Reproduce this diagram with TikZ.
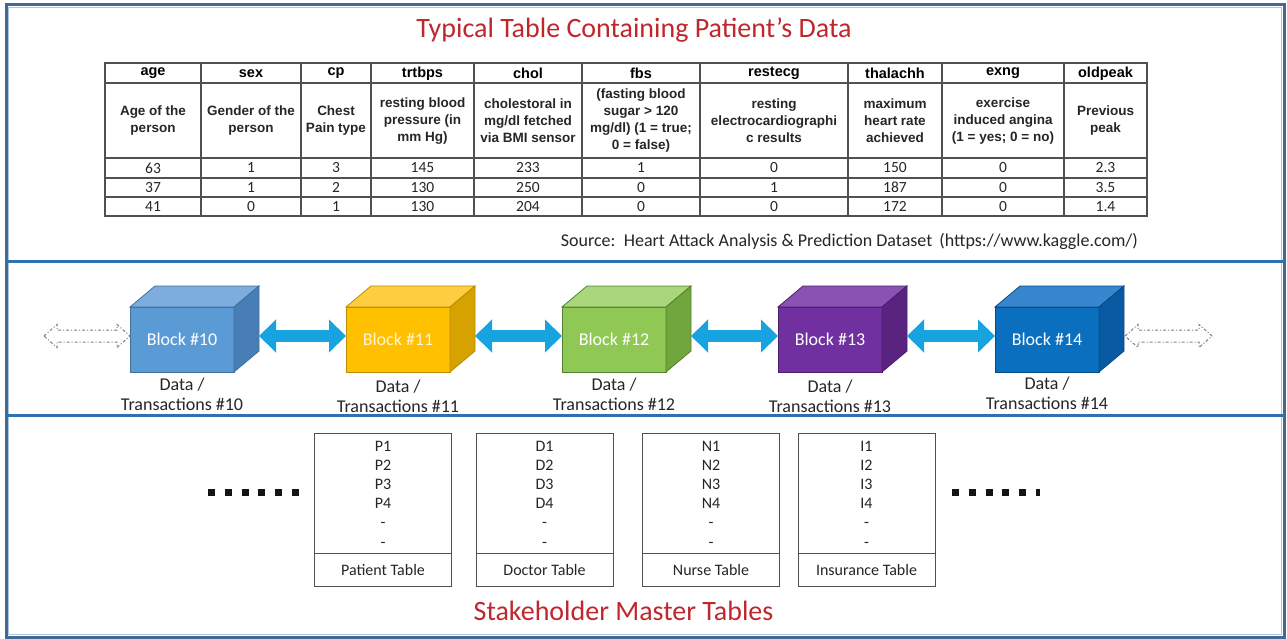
\documentclass[tikz,border=0pt]{standalone}
\usepackage{fontspec}
\setmainfont{Carlito}
\newfontfamily\arialfont{Liberation Sans}
\usetikzlibrary{arrows.meta,calc}

\definecolor{framecol}{RGB}{68,105,145}
\definecolor{framein}{RGB}{170,198,227}
\definecolor{divcol}{RGB}{46,113,176}
\definecolor{titlered}{RGB}{192,39,45}
\definecolor{gridcol}{RGB}{80,80,80}
\definecolor{txtdark}{RGB}{38,38,38}
\definecolor{arrcyan}{RGB}{22,163,224}
\definecolor{dashgray}{RGB}{128,128,128}
% cube faces: front / top / side / edge
\definecolor{aF}{RGB}{91,155,213}\definecolor{aT}{RGB}{124,173,222}\definecolor{aS}{RGB}{72,126,182}\definecolor{aE}{RGB}{65,113,156}
\definecolor{bF}{RGB}{255,192,0}\definecolor{bT}{RGB}{255,206,64}\definecolor{bS}{RGB}{214,162,0}\definecolor{bE}{RGB}{188,140,0}
\definecolor{cF}{RGB}{143,200,84}\definecolor{cT}{RGB}{170,215,124}\definecolor{cS}{RGB}{112,166,60}\definecolor{cE}{RGB}{84,130,50}
\definecolor{dF}{RGB}{112,48,160}\definecolor{dT}{RGB}{138,82,178}\definecolor{dS}{RGB}{88,36,128}\definecolor{dE}{RGB}{75,30,110}
\definecolor{eF}{RGB}{11,111,192}\definecolor{eT}{RGB}{56,135,206}\definecolor{eS}{RGB}{8,90,162}\definecolor{eE}{RGB}{6,75,135}
\definecolor{lblcream}{RGB}{255,244,214}

\begin{document}
\begin{tikzpicture}[x=1pt,y=-1pt,
  frame/.style={draw=framecol,line width=3pt},
  divider/.style={draw=divcol,line width=3pt},
  heading/.style={font=\fontsize{28}{32}\selectfont,text=titlered,inner sep=0},
  grid/.style={draw=gridcol,line width=1.1pt},
  gridouter/.style={draw=gridcol,line width=1.8pt},
  hdtxt/.style={font=\arialfont\bfseries\fontsize{14.5}{16}\selectfont,inner sep=0},
  dstxt/.style={font=\arialfont\bfseries\fontsize{13.5}{17}\selectfont,align=center,inner sep=0,text=txtdark},
  valtxt/.style={font=\fontsize{15.5}{17}\selectfont,inner sep=0,text=txtdark},
  srctxt/.style={font=\fontsize{18}{20}\selectfont,inner sep=0,text=txtdark},
  cubefront/.style={minimum width=104pt,minimum height=65pt,inner sep=0,outer sep=0,line width=0.8pt,font=\fontsize{18}{20}\selectfont},
  datalbl/.style={font=\fontsize{18}{20}\selectfont,align=center,inner sep=0,text=txtdark},
  bluearr/.style={draw=arrcyan,line width=12pt,{Triangle[width=32pt,length=17pt]}-{Triangle[width=32pt,length=17pt]}},
  dasharr/.style={draw=dashgray,line width=1pt,dash dot},
  tbox/.style={draw=gridcol,line width=1pt,minimum width=137pt,minimum height=153pt,inner sep=0,outer sep=0},
  listtxt/.style={font=\fontsize{16}{19.2}\selectfont,align=center,inner sep=0,text=txtdark},
  tname/.style={font=\fontsize{16}{18}\selectfont,inner sep=0,text=txtdark},
  dotsq/.style={fill=black!92}
]
\useasboundingbox (0,0) rectangle (1287,639);
\fill[white] (0,0) rectangle (1287,639);

% ---------- frame and section dividers ----------
\draw[framein,line width=1pt] (8.5,7.5) rectangle (1281.5,634.5);
\draw[frame] (6,5) rectangle (1284,637);
\draw[divider] (6,261) -- (1284,261);
\draw[divider] (6,415) -- (1284,415);

% ---------- patient data table ----------
\node[heading] (title) at (634,30) {Typical Table Containing Patient’s Data};

\foreach \x in {201,301,371,474,582,700,848,942,1064}
  \draw[grid] (\x,63) -- (\x,216);
\foreach \y in {83,158,178,197}
  \draw[grid] (105,\y) -- (1147,\y);
\draw[gridouter] (105,63) rectangle (1147,216);

\foreach \cx/\hd/\ds/\va/\vb/\vc [count=\i] in {
  153/age/{Age of the\\person}/63/37/41,
  251/sex/{Gender of the\\person}/1/1/0,
  336/cp/{Chest\\Pain type}/3/2/1,
  422.5/trtbps/{resting blood\\pressure (in\\mm Hg)}/145/130/130,
  528/chol/{cholestoral in\\mg/dl fetched\\via BMI sensor}/233/250/204,
  641/fbs/{(fasting blood\\sugar > 120\\mg/dl) (1 = true;\\0 = false)}/1/0/0,
  774/restecg/{resting\\electrocardiographi\\c results}/0/1/0,
  895/thalachh/{maximum\\heart rate\\achieved}/150/187/172,
  1003/exng/{exercise\\induced angina\\(1 = yes; 0 = no)}/0/0/0,
  1105.5/oldpeak/{Previous\\peak}/2.3/3.5/1.4}
{
  \node[hdtxt] (hd\i) at (\cx,73.5) {\hd};
  \node[dstxt] (ds\i) at (\cx,121) {\ds};
  \node[valtxt] (va\i) at (\cx,168) {\va};
  \node[valtxt] (vb\i) at (\cx,187.5) {\vb};
  \node[valtxt] (vc\i) at (\cx,206.5) {\vc};
}
\node[srctxt,anchor=east] (src) at (1138,241) {Source:\, Heart Attack Analysis \& Prediction Dataset\, (https://www.kaggle.com/)};

% ---------- chain of blocks ----------
\foreach \n/\bx/\cf/\ct/\cs/\ce/\tc/\ly in {
  10/130/aF/aT/aS/aE/white/394,
  11/346/bF/bT/bS/bE/lblcream/396.5,
  12/562/cF/cT/cS/cE/white/394,
  13/778/dF/dT/dS/dE/white/396.5,
  14/995/eF/eT/eS/eE/white/393.5}
{
  \node[cubefront,fill=\cf,draw=\ce,text=\tc] (blk\n) at (\bx+52,339.5) {Block \#\n};
  \filldraw[fill=\ct,draw=\ce,line width=0.8pt] (blk\n.north west) -- ++(25,-21) -- ++(104,0) -- (blk\n.north east) -- cycle;
  \filldraw[fill=\cs,draw=\ce,line width=0.8pt] (blk\n.north east) -- ++(25,-21) -- ++(0,65) -- (blk\n.south east) -- cycle;
  \coordinate (side\n) at ($(blk\n.east)+(25,-3.5)$);
  \node[datalbl] (dt\n) at (\bx+52,\ly) {Data /\\Transactions \#\n};
}
\foreach \a/\b in {10/11,11/12,12/13,13/14}
  \draw[bluearr] (side\a) -- (blk\b.west |- side\a);

% open-ended links at both ends of the chain
\coordinate (lfree) at (44,336);
\coordinate (lend) at (blk10.west |- lfree);
\coordinate (rstart) at (side14);
\coordinate (rfree) at (1212,336);
\draw[dasharr] (lfree) -- ($(lfree)+(13,-11.5)$) -- ($(lfree)+(13,-6)$) -- ($(lend)+(-13,-6)$)
  -- ($(lend)+(-13,-11.5)$) -- (lend) -- ($(lend)+(-13,11.5)$) -- ($(lend)+(-13,6)$)
  -- ($(lfree)+(13,6)$) -- ($(lfree)+(13,11.5)$) -- cycle;
\draw[dasharr] ($(rstart)+(1,0)$) -- ($(rstart)+(14,-11.5)$) -- ($(rstart)+(14,-6)$) -- ($(rfree)+(-13,-6)$)
  -- ($(rfree)+(-13,-11.5)$) -- (rfree) -- ($(rfree)+(-13,11.5)$) -- ($(rfree)+(-13,6)$)
  -- ($(rstart)+(14,6)$) -- ($(rstart)+(14,11.5)$) -- cycle;

% ---------- stakeholder master tables ----------
\foreach \nm/\cx/\p/\lbl in {
  pt/383/P/Patient Table,
  dt/544.5/D/Doctor Table,
  nt/711/N/Nurse Table,
  it/866.5/I/Insurance Table}
{
  \node[tbox] (\nm) at (\cx,510) {};
  \draw[draw=gridcol,line width=1pt] ($(\nm.south west)+(0,-33)$) -- ($(\nm.south east)+(0,-33)$);
  \node[listtxt] (\nm list) at (\cx,494) {\p1\\\p2\\\p3\\\p4\\-\\-};
  \node[tname] (\nm name) at (\cx,570) {\lbl};
}

\foreach \i in {0,...,5}
  \fill[dotsq] (208+16.8*\i,489) rectangle ++(7,7);
\foreach \i in {0,...,4}
  \fill[dotsq] (952+16.8*\i,489) rectangle ++(7,7);
\fill[dotsq] (1036,489) rectangle ++(4,7);

\node[heading] (stake) at (623.5,611) {Stakeholder Master Tables};
\end{tikzpicture}
\end{document}
